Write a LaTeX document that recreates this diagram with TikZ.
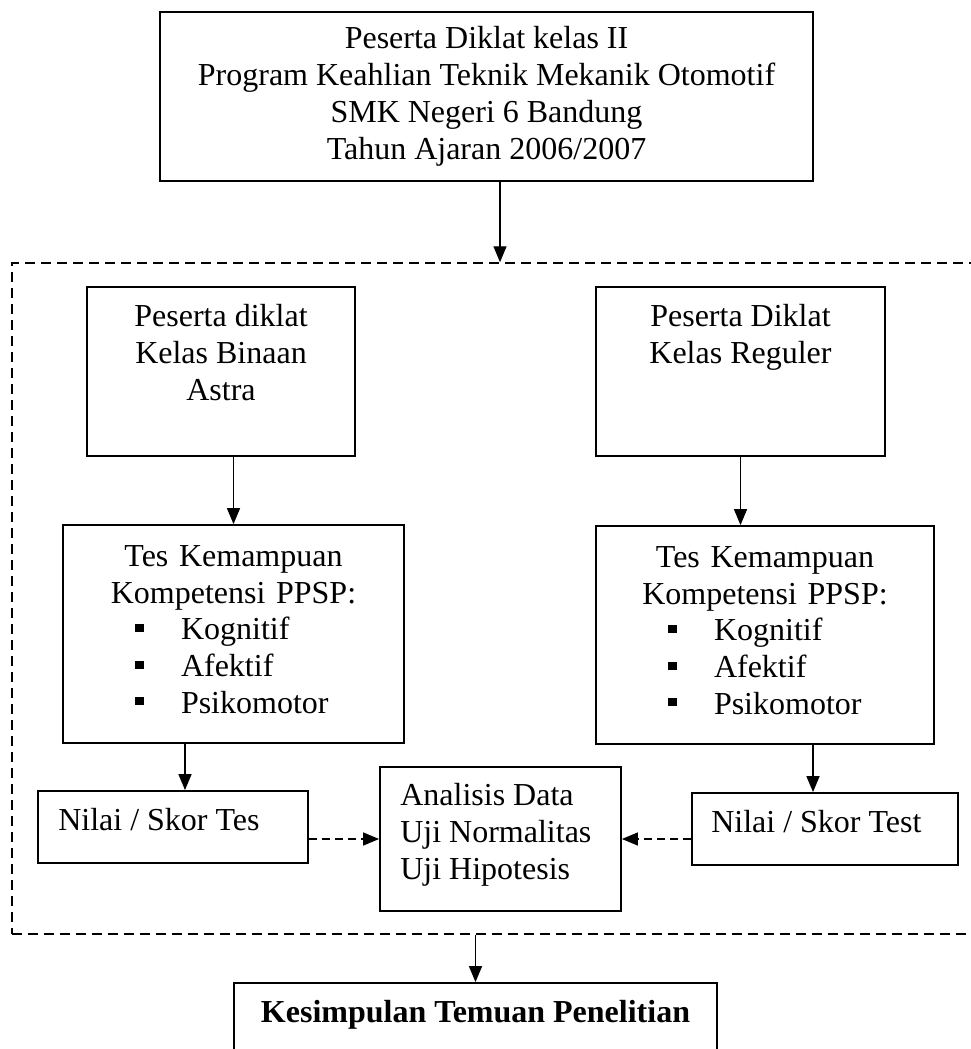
\documentclass[tikz,border=0pt]{standalone}
\usepackage{fontspec}
\setmainfont{Liberation Serif}
\usetikzlibrary{arrows.meta,positioning}
\newcommand{\Blt}{\rule[8pt]{9pt}{8pt}}
\newcommand{\ItemLine}[1]{\makebox[\hsize][l]{\hspace{72pt}\Blt\hspace{37pt}#1}}

\begin{document}
\begin{tikzpicture}[x=1pt,y=-1pt,
  font=\fontsize{32}{36.8}\selectfont,
  frame/.style={draw,line width=1.8pt,inner sep=0pt},
  txt/.style={inner sep=0pt,align=center},
  arr/.style={line width=1.4pt,-{Triangle[length=16pt,width=13pt]}},
  darr/.style={arr,dash pattern=on 8pt off 5pt},
  group/.style={draw,line width=1.5pt,dash pattern=on 10pt off 6pt}]

\useasboundingbox (0,0) rectangle (971,1049);
\clip (0,0) rectangle (971,1049);

% population
\node[frame,txt,minimum width=653pt,minimum height=169pt] (peserta) at (486.5,96.5)
  {Peserta Diklat kelas II\\Program Keahlian Teknik Mekanik Otomotif\\SMK Negeri 6 Bandung\\Tahun Ajaran 2006/2007};

% dashed frame round the two classes
\node[group,minimum width=988pt,minimum height=671pt] (kelas) at (506,598.5) {};

\node[frame,minimum width=268pt,minimum height=169pt] (binaan) at (221,371.5) {};
\node[txt,below=18pt of binaan.north] (binaanT) {Peserta diklat\\Kelas Binaan\\Astra};
\node[frame,minimum width=289pt,minimum height=169pt] (reguler) at (740.5,371.5) {};
\node[txt,below=18pt of reguler.north] (regulerT) {Peserta Diklat\\Kelas Reguler};

% tests
\node[frame,minimum width=341pt,minimum height=218pt] (tesA) at (233.5,634) {};
\node[txt,text width=341pt,below=21pt of tesA.north] (tesAT)
  {Tes Kemampuan\\Kompetensi PPSP:\\\ItemLine{Kognitif}\\\ItemLine{Afektif}\\\ItemLine{Psikomotor}};
\node[frame,minimum width=338pt,minimum height=218pt] (tesB) at (765,635) {};
\node[txt,text width=338pt,below=21pt of tesB.north] (tesBT)
  {Tes Kemampuan\\Kompetensi PPSP:\\\ItemLine{Kognitif}\\\ItemLine{Afektif}\\\ItemLine{Psikomotor}};

% scores and analysis
\node[frame,minimum width=270pt,minimum height=72pt] (nilaiA) at (173,827) {};
\node[txt,anchor=base west] (nilaiAT) at ([shift={(21pt,-3pt)}]nilaiA.west) {Nilai / Skor Tes};
\node[frame,minimum width=266pt,minimum height=72pt] (nilaiB) at (825,829) {};
\node[txt,anchor=base west] (nilaiBT) at ([shift={(20pt,-3pt)}]nilaiB.west) {Nilai / Skor Test};
\node[frame,minimum width=241pt,minimum height=144pt] (anal) at (500.5,839) {};
\node[txt,align=left,below right=17pt and 21pt of anal.north west] (analT)
  {Analisis Data\\Uji Normalitas\\Uji Hipotesis};

% conclusion
\node[frame,minimum width=483pt,minimum height=97pt] (fin) at (475.5,1031.5) {};
\node[txt,font=\fontsize{32}{36.8}\selectfont\bfseries,below=18pt of fin.north] (finT)
  {Kesimpulan Temuan Penelitian};

\coordinate (a0) at ([xshift=13.5pt]peserta.south);
\coordinate (a1) at ([xshift=-48.5pt]tesA.south);
\coordinate (a2) at ([xshift=48pt]tesB.south);

\draw[arr] (a0) -- (a0 |- kelas.north);
\draw[arr] (tesA.north |- binaan.south) -- (tesA.north);
\draw[arr] (reguler.south) -- (reguler.south |- tesB.north);
\draw[arr] (a1) -- (a1 |- nilaiA.north);
\draw[arr] (a2) -- (a2 |- nilaiB.north);
\draw[darr] (nilaiA.east |- anal.west) -- (anal.west);
\draw[darr] (nilaiB.west |- anal.east) -- (anal.east);
\draw[arr] (fin.north |- kelas.south) -- (fin.north);

\end{tikzpicture}
\end{document}
